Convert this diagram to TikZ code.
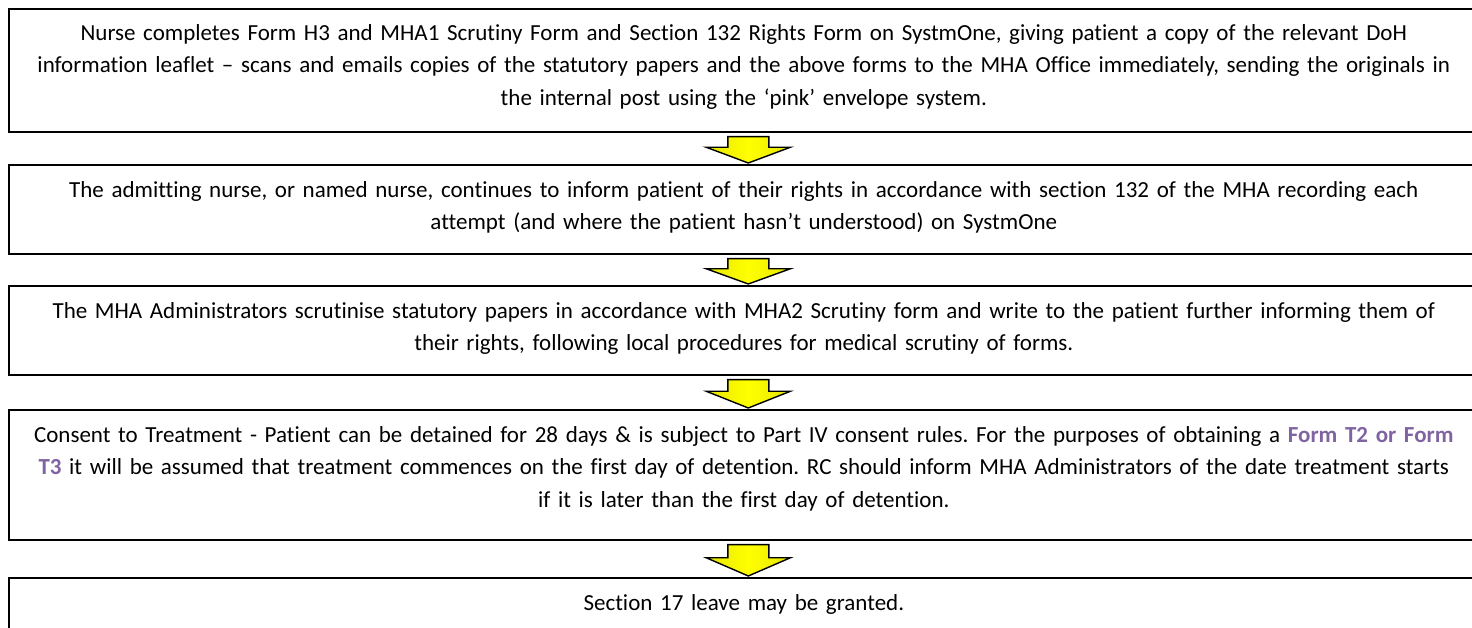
\documentclass[tikz,border=0pt]{standalone}
\usepackage{fontspec}
\setmainfont{Carlito}[Ligatures={NoCommon}]
\usetikzlibrary{calc}
\definecolor{formpurple}{HTML}{8064A2}
\definecolor{arrowyellow}{HTML}{FFFF00}
\definecolor{arrowedge}{HTML}{E6E600}
\tikzset{
  stepbox/.style={draw=black, line width=1.6pt, rectangle, anchor=north west,
    minimum width=1470pt, inner sep=0pt},
  steptext/.style={anchor=north, inner sep=0pt, align=center, text width=1460pt,
    font=\fontsize{23}{32.8}\selectfont\frenchspacing},
  flowarrow/.style={draw=black, line width=1.4pt, line join=miter,
    left color=arrowedge, right color=arrowedge, middle color=arrowyellow},
}
% yellow block arrow between the bottom of one box and the top of the next
\newcommand\blockarrow[2]{%
  \draw[flowarrow] let \p1=(#1.south), \p2=(#2.north),
      \n1={\x1+4.5pt}, \n2={0.5*(\y1+\y2)+1pt} in
    (\n1-20.5pt,\y1-4pt) -- (\n1+20.5pt,\y1-4pt) -- (\n1+20.5pt,\n2)
    -- (\n1+42pt,\n2) -- (\n1,\y2+1pt) -- (\n1-42pt,\n2)
    -- (\n1-20.5pt,\n2) -- cycle;}
\begin{document}
\begin{tikzpicture}[x=1pt,y=1pt]
\useasboundingbox (0,0) rectangle (1472,628);
\clip (0,0) rectangle (1472,628);

% boxes
\node[stepbox, minimum height=123pt] (b1) at (8,620) {};
\node[stepbox, minimum height=89pt]  (b2) at (8,464) {};
\node[stepbox, minimum height=89pt]  (b3) at (8,343) {};
\node[stepbox, minimum height=130pt] (b4) at (8,219) {};
\node[stepbox, minimum height=80pt]  (b5) at (8,51) {};

% texts
\node[steptext] (t1) at ($(b1.north)+(0,-16)$) {Nurse completes Form H3 and MHA1 Scrutiny Form and Section 132 Rights Form on SystmOne, giving patient a copy of the relevant DoH\\
information leaflet – scans and emails copies of the statutory papers and the above forms to the MHA Office immediately, sending the originals in\\
the internal post using the ‘pink’ envelope system.};
\node[steptext] (t2) at ($(b2.north)+(0,-17)$) {The admitting nurse, or named nurse, continues to inform patient of their rights in accordance with section 132 of the MHA recording each\\
attempt (and where the patient hasn’t understood) on SystmOne};
\node[steptext] (t3) at ($(b3.north)+(0,-17)$) {The MHA Administrators scrutinise statutory papers in accordance with MHA2 Scrutiny form and write to the patient further informing them of\\
their rights, following local procedures for medical scrutiny of forms.};
\node[steptext] (t4) at ($(b4.north)+(0,-17)$) {Consent to Treatment - Patient can be detained for 28 days \& is subject to Part IV consent rules. For the purposes of obtaining a \textbf{\color{formpurple}Form T2 or Form}\\
\textbf{\color{formpurple}T3} it will be assumed that treatment commences on the first day of detention. RC should inform MHA Administrators of the date treatment starts\\
if it is later than the first day of detention.};
\node[steptext] (t5) at ($(b5.north)+(0,-17)$) {Section 17 leave may be granted.};

% arrows
\blockarrow{b1}{b2}
\blockarrow{b2}{b3}
\blockarrow{b3}{b4}
\blockarrow{b4}{b5}
\end{tikzpicture}
\end{document}
